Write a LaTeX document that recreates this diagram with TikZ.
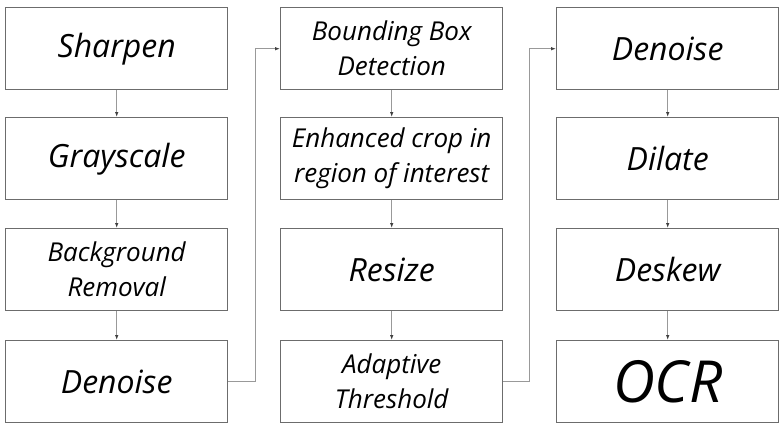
\documentclass[tikz,border=0pt]{standalone}
\usepackage{fontspec}
\setmainfont{Open Sans}
\usetikzlibrary{arrows.meta}

\begin{document}
\begin{tikzpicture}[x=1pt,y=-1pt]
  % overall canvas
  \useasboundingbox (0,0) rectangle (784,428);

  % styles
  \tikzset{
    stage/.style={draw=gray!85!black,line width=1.4pt,minimum width=222pt,minimum height=82pt,
      inner sep=0pt,anchor=north west,align=center,font=\itshape},
    big/.style={font=\itshape\fontsize{32}{36}\selectfont},
    two/.style={font=\itshape\fontsize{26}{35}\selectfont},
    link/.style={draw=gray!80,line width=0.9pt,-{Latex[length=5pt,width=3.5pt,color=black!75]}},
  }

  % white background
  \fill[white] (0,0) rectangle (784,428);

  % left column
  \node[stage,big] (sharpen) at (5,  7) {Sharpen};
  \node[stage,big] (gray)    at (5,117) {Grayscale};
  \node[stage,two] (bgrem)   at (5,228) {Background\\Removal};
  \node[stage,big] (denA)    at (5,340) {Denoise};

  % middle column
  \node[stage,two] (bbox)    at (280,  7) {Bounding Box\\Detection};
  \node[stage,two] (crop)    at (280,117) {Enhanced crop in\\region of interest};
  \node[stage,big] (resize)  at (280,228) {Resize};
  \node[stage,two] (thresh)  at (280,340) {Adaptive\\Threshold};

  % right column
  \node[stage,big] (denB)    at (556,  7) {Denoise};
  \node[stage,big] (dilate)  at (556,117) {Dilate};
  \node[stage,big] (deskew)  at (556,228) {Deskew};
  \node[stage,font=\itshape\fontsize{58}{60}\selectfont] (ocr) at (556,340) {OCR};

  % downward links
  \draw[link] (sharpen) -- (gray);
  \draw[link] (gray) -- (bgrem);
  \draw[link] (bgrem) -- (denA);
  \draw[link] (bbox) -- (crop);
  \draw[link] (crop) -- (resize);
  \draw[link] (resize) -- (thresh);
  \draw[link] (denB) -- (dilate);
  \draw[link] (dilate) -- (deskew);
  \draw[link] (deskew) -- (ocr);

  % column to column
  \draw[link] (denA.east) -- ++(27,0) |- (bbox.west);
  \draw[link] (thresh.east) -- ++(26,0) |- (denB.west);
\end{tikzpicture}
\end{document}
